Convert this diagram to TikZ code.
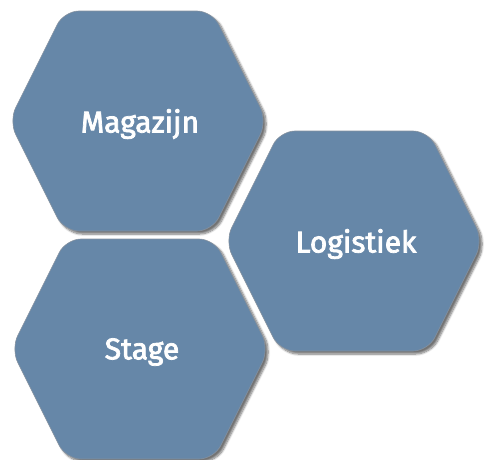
\documentclass[tikz,border=0pt]{standalone}
\usepackage{fontspec}
\setmainfont{Fira Sans}
\newfontfamily\hexfont{Fira Sans}[FakeBold=2.5]
\usepackage{xcolor}
\usetikzlibrary{shadows.blur}

\definecolor{hexblue}{RGB}{102,135,168}
\definecolor{hexdark}{RGB}{52,72,95}

\begin{document}
\begin{tikzpicture}[x=1pt, y=-1pt,
    hexpart/.style={fill=hexblue, draw=hexdark!60, line width=0.6pt, rounded corners=15pt,
      blur shadow={shadow xshift=3pt, shadow yshift=-3pt, shadow opacity=55, shadow blur steps=8}},
    every node/.style={font=\hexfont\fontsize{30}{34}\selectfont, text=white}]
  \useasboundingbox (0,0) rectangle (485,459);
  \foreach \n/\cx/\cy/\t in {mag/138/121/Magazijn, log/354/241/Logistiek, stg/140/349/Stage} {
    \draw[hexpart] (\cx-129,\cy) -- (\cx-74,\cy-110) -- (\cx+74,\cy-110)
      -- (\cx+129,\cy) -- (\cx+74,\cy+110) -- (\cx-74,\cy+110) -- cycle;
    \node (\n) at (\cx+2,\cy+3) {\t};
  }
\end{tikzpicture}
\end{document}
